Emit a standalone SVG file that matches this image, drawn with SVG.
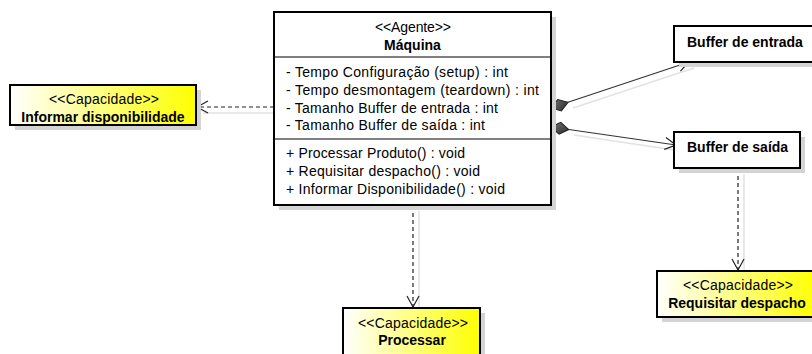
<svg xmlns="http://www.w3.org/2000/svg" width="812" height="354" viewBox="0 0 812 354">
<defs>
<linearGradient id="yel" x1="0" y1="0" x2="1" y2="0">
<stop offset="0" stop-color="#ffffff"/>
<stop offset="1" stop-color="#ffff00"/>
</linearGradient>
<linearGradient id="dia" x1="0" y1="0" x2="1" y2="1">
<stop offset="0" stop-color="#777777"/>
<stop offset="1" stop-color="#2a2a2a"/>
</linearGradient>
<marker id="open" markerUnits="userSpaceOnUse" markerWidth="14" markerHeight="14" viewBox="0 0 14 14" refX="12" refY="7" orient="auto">
<path d="M1,1 L12,7 L1,13" fill="none" stroke="#222" stroke-width="1.2"/>
</marker>
</defs>
<style>
text{font-family:"Liberation Sans",Arial,sans-serif;font-size:14px;fill:#000}
.b{font-weight:bold}
.c{text-anchor:middle}
.box{stroke:#000;stroke-width:2}
.sh{fill:#d4d4d4}
.dash{fill:none;stroke:#222;stroke-width:1.2;stroke-dasharray:4,3}
.solid{fill:none;stroke:#333;stroke-width:1.2}
.shl{fill:none;stroke:#e2e2e2;stroke-width:1.5}
</style>
<rect width="812" height="354" fill="#fff"/>

<g id="connectors">
<line class="shl" x1="280" y1="113" x2="203" y2="113"/>
<line class="shl" x1="419" y1="211" x2="419" y2="313"/>
<line class="shl" x1="744" y1="174" x2="744" y2="276"/>
<line class="shl" x1="573" y1="108" x2="694" y2="68"/>
<line class="shl" x1="574" y1="135" x2="681" y2="151"/>
<line class="dash" x1="274" y1="107" x2="197" y2="107" marker-end="url(#open)"/>
<line class="dash" x1="413" y1="206" x2="413" y2="307" marker-end="url(#open)"/>
<line class="dash" x1="738" y1="169" x2="738" y2="270" marker-end="url(#open)"/>
<line class="solid" x1="568" y1="102.3" x2="689" y2="62" marker-end="url(#open)"/>
<line class="solid" x1="568.8" y1="129.5" x2="676" y2="145" marker-end="url(#open)"/>
<polygon points="0,0 9,-6 18,0 9,6" fill="url(#dia)" stroke="#222" stroke-width="1" transform="translate(551,108) rotate(-18.3)"/>
<polygon points="0,0 9,-6 18,0 9,6" fill="url(#dia)" stroke="#222" stroke-width="1" transform="translate(551,127) rotate(8.1)"/>
</g>

<g id="maquina">
<rect class="sh" x="279" y="17" width="277" height="193"/>
<rect class="box" x="274" y="12" width="277" height="193" fill="#fff"/>
<line x1="274" y1="57" x2="551" y2="57" stroke="#000" stroke-width="1"/>
<line x1="274" y1="139" x2="551" y2="139" stroke="#000" stroke-width="1"/>
<text class="c" x="413" y="32" textLength="76" lengthAdjust="spacing">&lt;&lt;Agente&gt;&gt;</text>
<text class="c b" x="412.5" y="50">Máquina</text>
<text x="286" y="77" textLength="222" lengthAdjust="spacing">- Tempo Configuração (setup) : int</text>
<text x="286" y="95" textLength="253" lengthAdjust="spacing">- Tempo desmontagem (teardown) : int</text>
<text x="286" y="112.5" textLength="212" lengthAdjust="spacing">- Tamanho Buffer de entrada : int</text>
<text x="286" y="130" textLength="199" lengthAdjust="spacing">- Tamanho Buffer de saída : int</text>
<text x="286" y="158" textLength="179" lengthAdjust="spacing">+ Processar Produto() : void</text>
<text x="286" y="176" textLength="194" lengthAdjust="spacing">+ Requisitar despacho() : void</text>
<text x="286" y="194" textLength="219" lengthAdjust="spacing">+ Informar Disponibilidade() : void</text>
</g>

<g id="informar">
<rect class="sh" x="15" y="90" width="186" height="40"/>
<rect class="box" x="10" y="85" width="186" height="40" fill="url(#yel)"/>
<text class="c" x="104" y="104" textLength="110" lengthAdjust="spacing">&lt;&lt;Capacidade&gt;&gt;</text>
<text class="c b" x="103" y="122">Informar disponibilidade</text>
</g>

<g id="buffer-entrada">
<rect class="sh" x="679" y="31" width="140" height="36"/>
<rect class="box" x="674" y="26" width="145" height="36" fill="#fff"/>
<text class="b" x="687" y="47">Buffer de entrada</text>
</g>

<g id="buffer-saida">
<rect class="sh" x="679" y="137" width="126" height="36"/>
<rect class="box" x="674" y="132" width="126" height="36" fill="#fff"/>
<text class="b" x="687" y="152">Buffer de saída</text>
</g>

<g id="processar">
<rect class="sh" x="348" y="313" width="137" height="50"/>
<rect class="box" x="343" y="308" width="137" height="50" fill="url(#yel)"/>
<text class="c" x="413" y="328" textLength="110" lengthAdjust="spacing">&lt;&lt;Capacidade&gt;&gt;</text>
<text class="c b" x="412" y="345">Processar</text>
</g>

<g id="requisitar">
<rect class="sh" x="662" y="276" width="160" height="46"/>
<rect class="box" x="657" y="271" width="160" height="46" fill="url(#yel)"/>
<text class="c" x="738" y="290" textLength="110" lengthAdjust="spacing">&lt;&lt;Capacidade&gt;&gt;</text>
<text class="c b" x="737" y="308">Requisitar despacho</text>
</g>
</svg>
